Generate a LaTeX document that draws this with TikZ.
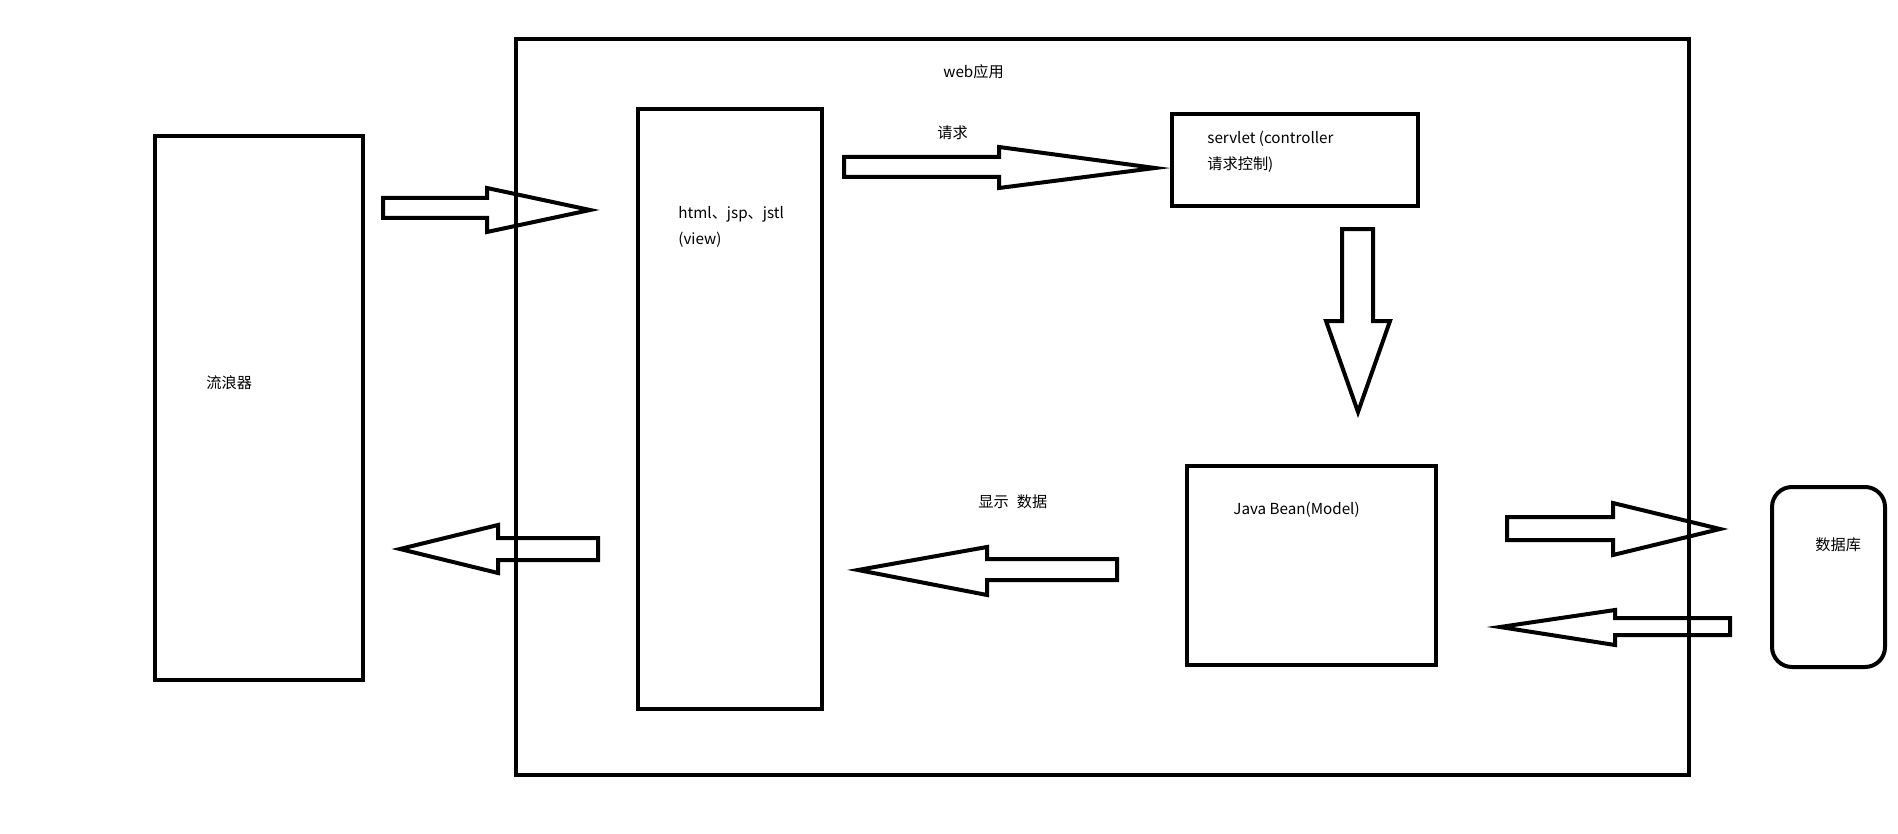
\documentclass[tikz,border=0pt]{standalone}
\usepackage{fontspec}
\setmainfont{Noto Sans CJK SC}
\begin{document}
\begin{tikzpicture}[x=0.5pt,y=-0.5pt,
  box/.style={draw,line width=2pt,inner sep=0pt,fill=none},
  blk/.style={draw,line width=2pt,line join=miter},
  lbl/.style={anchor=west,inner sep=0pt,font=\fontsize{7.6pt}{9pt}\selectfont}]
\useasboundingbox[fill=white] (0,0) rectangle (1898,834);
% boxes
\node[box,minimum width=586.5pt,minimum height=368pt] (web) at (1102.5,407) {};
\node[box,minimum width=104pt,minimum height=272pt] (browser) at (259,408) {};
\node[box,minimum width=92pt,minimum height=300pt] (view) at (730,409) {};
\node[box,minimum width=123pt,minimum height=46pt] (servlet) at (1295,160) {};
\node[box,minimum width=124.5pt,minimum height=99.5pt] (bean) at (1311.5,565.5) {};
\node[box,rounded corners=10pt,minimum width=56.5pt,minimum height=90pt] (db) at (1828.5,577) {};
% labels
\node[lbl] (tweb) at (943,72) {web应用};
\node[lbl] (treq) at (937,133) {请求};
\node[lbl] (tsv1) at (1207,139) {servlet (controller};
\node[lbl] (tsv2) at (1207,165) {请求控制)};
\node[lbl] (tv1) at (678,214) {html、jsp、jstl};
\node[lbl] (tv2) at (678,240) {(view)};
\node[lbl] (tbr) at (206,383) {流浪器};
\node[lbl] (tshow) at (978,502) {显示\hspace{4pt}数据};
\node[lbl] (tbean) at (1233,510) {Java Bean(Model)};
\node[lbl] (tdb) at (1815,545) {数据库};
% block arrows
\draw[blk] (383,198)--(487,198)--(487,188)--(590,210)--(487,232)--(487,218)--(383,218)--cycle;
\draw[blk] (844,157)--(999,157)--(999,147)--(1155,168)--(999,188)--(999,177)--(844,177)--cycle;
\draw[blk] (1342,229)--(1373,229)--(1373,321)--(1390,321)--(1358,412)--(1326,321)--(1342,321)--cycle;
\draw[blk] (598,538)--(498,538)--(498,525)--(400,549)--(498,573)--(498,560)--(598,560)--cycle;
\draw[blk] (1117,559)--(987,559)--(987,547)--(858,570)--(987,595)--(987,580)--(1117,580)--cycle;
\draw[blk] (1507,517)--(1613,517)--(1613,503)--(1720,529)--(1613,555)--(1613,540)--(1507,540)--cycle;
\draw[blk] (1730,618)--(1615,618)--(1615,610)--(1500,627)--(1615,645)--(1615,635)--(1730,635)--cycle;
\end{tikzpicture}
\end{document}
